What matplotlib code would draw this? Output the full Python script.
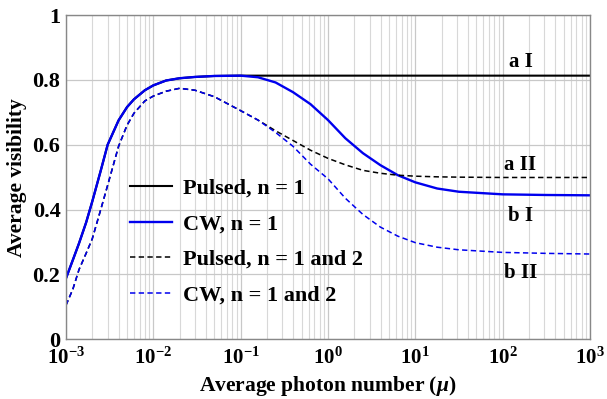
import numpy as np
import matplotlib
matplotlib.use("Agg")
import matplotlib.pyplot as plt

plt.rcParams['font.family'] = ['Liberation Serif', 'DejaVu Serif']
plt.rcParams['font.weight'] = 'bold'
plt.rcParams['mathtext.fontset'] = 'custom'
plt.rcParams['mathtext.rm'] = 'Liberation Serif:bold'
plt.rcParams['mathtext.it'] = 'Liberation Serif:italic:bold'
plt.rcParams['mathtext.bf'] = 'Liberation Serif:bold'
plt.rcParams['mathtext.default'] = 'rm'

# average photon number (mu)
mu = [1e-3, 1.2e-3, 1.41e-3, 1.7e-3, 2e-3, 2.5e-3, 3e-3, 4e-3, 5e-3, 6e-3, 8e-3,
      1e-2, 1.4e-2, 2e-2, 3e-2, 5e-2, 0.1, 0.158, 0.251, 0.398, 0.631, 1.0,
      1.58, 2.51, 3.98, 6.31, 10.0, 17.8, 31.6, 100.0, 316.0, 1000.0]

cw_n1 = [0.188, 0.245, 0.296, 0.36, 0.425, 0.52, 0.6, 0.675, 0.716, 0.74, 0.768,
         0.783, 0.798, 0.805, 0.809, 0.812, 0.813, 0.808, 0.792, 0.762, 0.725, 0.676,
         0.62, 0.574, 0.537, 0.506, 0.484, 0.465, 0.455, 0.447, 0.445, 0.444]

pulsed_n1 = [0.188, 0.245, 0.296, 0.36, 0.425, 0.52, 0.6, 0.675, 0.716, 0.74, 0.768,
             0.783, 0.798, 0.805, 0.809, 0.812, 0.813, 0.813, 0.813, 0.813, 0.813, 0.813,
             0.813, 0.813, 0.813, 0.813, 0.813, 0.813, 0.813, 0.813, 0.813, 0.813]

pulsed_n12 = [0.105, 0.155, 0.215, 0.265, 0.31, 0.4, 0.475, 0.595, 0.66, 0.697, 0.735,
              0.75, 0.765, 0.774, 0.768, 0.748, 0.705, 0.676, 0.643, 0.613, 0.583, 0.558,
              0.538, 0.521, 0.512, 0.506, 0.503, 0.501, 0.5, 0.499, 0.499, 0.499]

cw_n12 = [0.105, 0.155, 0.215, 0.265, 0.31, 0.4, 0.475, 0.595, 0.66, 0.697, 0.735,
          0.75, 0.765, 0.774, 0.768, 0.748, 0.705, 0.676, 0.638, 0.595, 0.54, 0.495,
          0.435, 0.385, 0.346, 0.318, 0.298, 0.284, 0.276, 0.268, 0.265, 0.263]

curve_labels = ["a I", "a II", "b I", "b II"]
curve_label_y = [0.855, 0.537, 0.38, 0.204]
curve_label_x = 160

fig = plt.figure(figsize=(6.07, 3.99), dpi=100)
ax = fig.add_axes([0.1087, 0.1496, 0.8633, 0.8128])

ax.plot(mu, pulsed_n1, color='black', lw=1.5, label='Pulsed, n = 1')
ax.plot(mu, cw_n1, color='#0000ee', lw=1.7, label='CW, n = 1')
ax.plot(mu, pulsed_n12, color='black', lw=1.1, ls=(0, (3.5, 2.2)), label='Pulsed, n = 1 and 2')
ax.plot(mu, cw_n12, color='#0000ee', lw=1.1, ls=(0, (3.5, 2.2)), label='CW, n = 1 and 2')

for lab, yy in zip(curve_labels, curve_label_y):
    ax.text(curve_label_x, yy, lab, ha='center', va='center', fontsize=15, fontweight='bold')

ax.set_xscale('log')
ax.set_xlim(1e-3, 1e3)
ax.set_ylim(0, 1)
ax.set_yticks([0, 0.2, 0.4, 0.6, 0.8, 1])
ax.set_yticklabels(['0', '0.2', '0.4', '0.6', '0.8', '1'])
ax.xaxis.set_major_locator(matplotlib.ticker.LogLocator(base=10, numticks=10))
ax.xaxis.set_minor_locator(matplotlib.ticker.LogLocator(base=10, subs=np.arange(2, 10), numticks=20))
ax.xaxis.set_minor_formatter(matplotlib.ticker.NullFormatter())

ax.grid(True, which='major', color='#c8c8c8', lw=0.9)
ax.grid(True, which='minor', axis='x', color='#d8d8d8', lw=0.8)
ax.set_axisbelow(True)
ax.tick_params(which='both', length=0)
ax.tick_params(axis='y', labelsize=16, pad=4)
ax.tick_params(axis='x', labelsize=15, pad=6)
for s in ax.spines.values():
    s.set_color('#888888')
    s.set_linewidth(1.0)

ax.set_xlabel(r'Average photon number ($\mathit{\mu}$)', fontsize=15.5, fontweight='bold', labelpad=4)
ax.set_ylabel('Average visibility', fontsize=15.5, fontweight='bold', labelpad=4)

ax.legend(loc='upper left', bbox_to_anchor=(0.122, 0.496), frameon=False, fontsize=16,
          borderpad=0, borderaxespad=0, handlelength=1.9, handletextpad=0.5, labelspacing=0.67)

fig.savefig('out.png', dpi=100)
